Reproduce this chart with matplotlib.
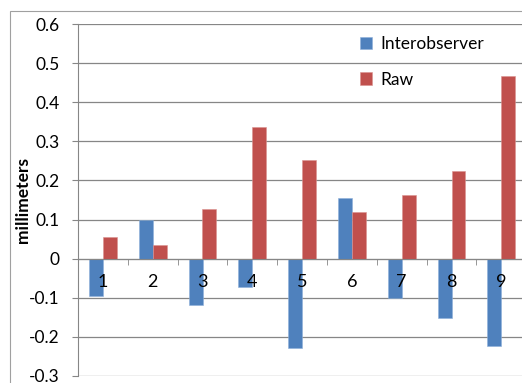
import matplotlib
matplotlib.use('Agg')
import matplotlib.pyplot as plt
import numpy as np
from matplotlib.patches import Rectangle

plt.rcParams['font.family'] = ['Lato', 'DejaVu Sans']

categories = ['1', '2', '3', '4', '5', '6', '7', '8', '9']
interobserver = [-0.095, 0.098, -0.120, -0.072, -0.229, 0.156, -0.101, -0.151, -0.224]
raw = [0.056, 0.035, 0.128, 0.338, 0.253, 0.120, 0.163, 0.225, 0.467]

blue = '#4F81BD'
red = '#C0504D'
grid_col = '#868686'

fig = plt.figure(figsize=(5.22, 3.83), dpi=100)
# chart border
fig.patches.append(Rectangle((10 / 522, -0.05), 1.2, 1 - 11 / 383 + 0.05, transform=fig.transFigure,
                             fill=False, edgecolor='#A0A0A0', linewidth=0.8))

ax = fig.add_axes([78 / 522, 1 - 375.7 / 383, 444 / 522, (375.7 - 24.3) / 383])

x = np.arange(1, len(categories) + 1)
w = 0.28
ax.bar(x - w / 2, interobserver, w, color=blue, edgecolor='#8DB0DA', linewidth=0.4,
       label='Interobserver', zorder=2.6)
ax.bar(x + w / 2, raw, w, color=red, edgecolor='#DA9290', linewidth=0.4,
       label='Raw', zorder=2.6)

ax.set_xlim(0.5, 0.5 + 444 / 49.8)
ax.set_ylim(-0.3, 0.6)
ax.set_yticks(np.arange(-0.3, 0.61, 0.1))
ax.set_yticklabels(['-0.3', '-0.2', '-0.1', '0', '0.1', '0.2', '0.3', '0.4', '0.5', '0.6'])
ax.yaxis.grid(True, color=grid_col, linewidth=0.9)
ax.set_axisbelow(False)
# category labels sit on top of the bars, gridlines stay behind them
ax.xaxis.set_zorder(3)
ax.yaxis.set_zorder(2.5)

for s in ['top', 'right']:
    ax.spines[s].set_visible(False)
ax.spines['left'].set_color(grid_col)
ax.spines['bottom'].set_position(('data', 0))
ax.spines['bottom'].set_color(grid_col)
ax.spines['bottom'].set_zorder(3)

ax.set_xticks(x)
ax.set_xticklabels(categories)
ax.set_xticks(np.arange(1.5, 9.5, 1), minor=True)
ax.tick_params(axis='x', which='major', length=0, pad=11, labelsize=13)
ax.tick_params(axis='x', which='minor', length=4, color=grid_col, direction='out')
ax.tick_params(axis='y', length=4.5, color=grid_col, labelsize=12.5, pad=9)

ax.set_ylabel('millimeters', fontsize=12.5, fontweight='bold')
ax.yaxis.set_label_coords(-0.106, 0.5)

ax.legend(loc='upper left', bbox_to_anchor=(0.6, 1.01), frameon=False, fontsize=12.5,
          handlelength=0.7, handleheight=0.7, handletextpad=0.5, labelspacing=1.1)

fig.savefig('out.png', dpi=100)
